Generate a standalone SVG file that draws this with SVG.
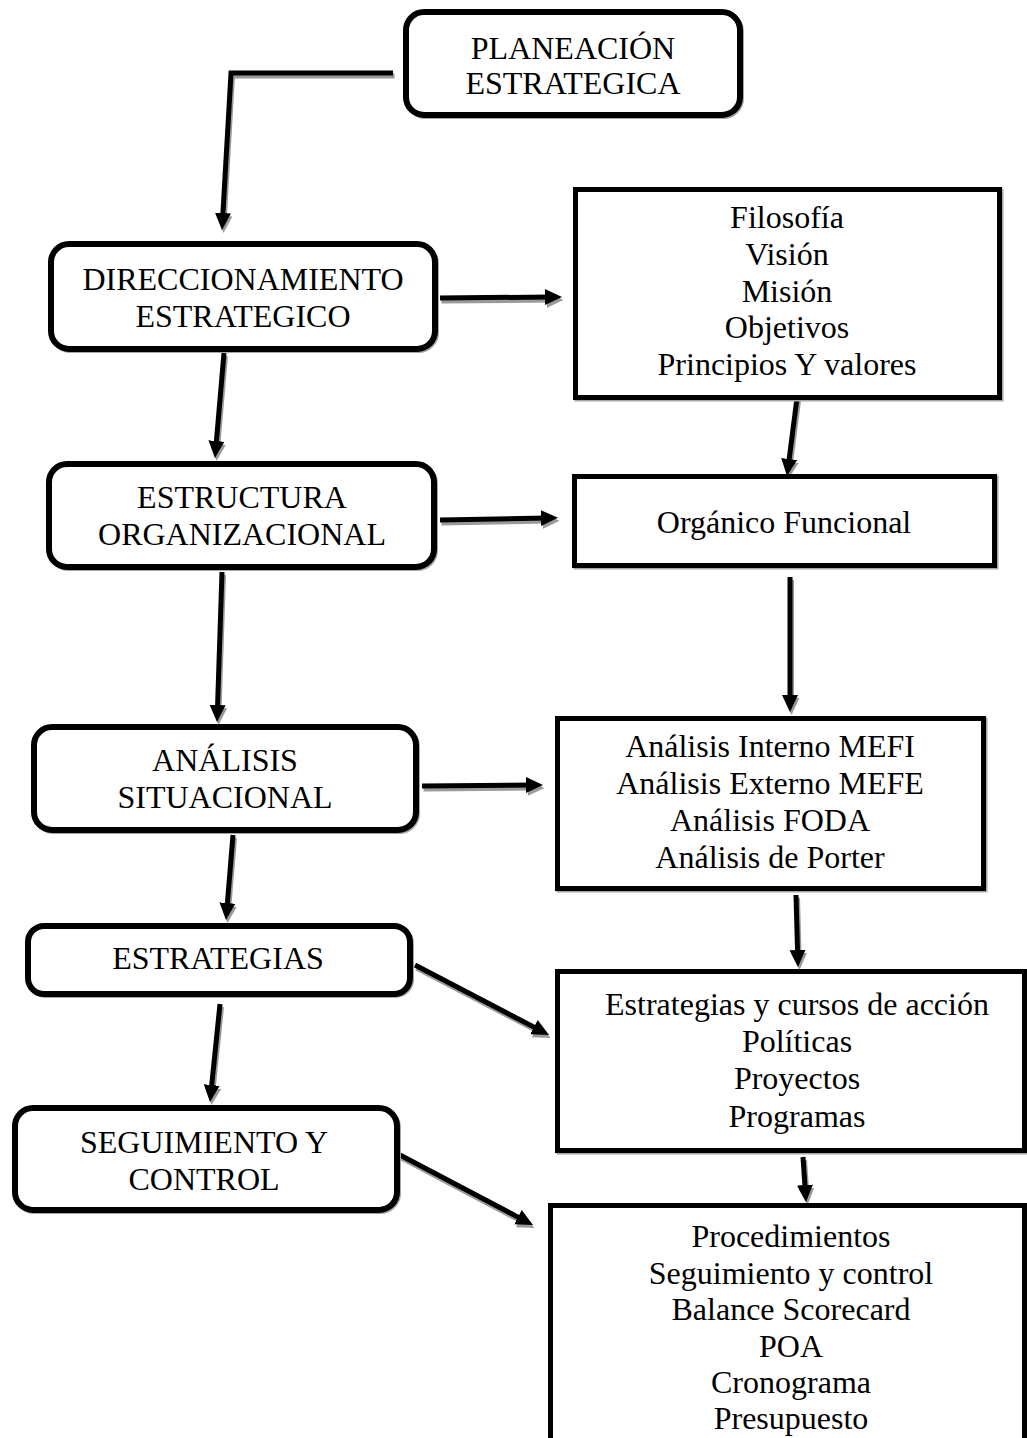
<svg xmlns="http://www.w3.org/2000/svg" width="1027" height="1438" viewBox="0 0 1027 1438">
  <style>
    .box { fill: #fff; stroke: #000; stroke-width: 6; }
    .sq { fill: #fff; stroke: #000; stroke-width: 5; }
    .boxsh { fill: none; stroke: #a6a6a6; stroke-width: 5; }
    .lbl { font-family: 'Liberation Serif', 'Times New Roman', Times, serif; font-size: 32px; fill: #000; text-anchor: middle; }
    .wire { fill: none; stroke: #000; stroke-width: 5; stroke-linejoin: miter; marker-end: url(#head); }
    .wiresh { fill: none; stroke: #9a9a9a; stroke-width: 5; stroke-linejoin: miter; marker-end: url(#headsh); }
  </style>
  <defs>
    <marker id="head" markerUnits="userSpaceOnUse" markerWidth="18" markerHeight="17" refX="6" refY="8" orient="auto" viewBox="0 0 18 17">
      <path d="M0,0 L17,8 L0,16 Z" fill="#000"/>
    </marker>
    <marker id="headsh" markerUnits="userSpaceOnUse" markerWidth="18" markerHeight="17" refX="6" refY="8" orient="auto" viewBox="0 0 18 17">
      <path d="M0,0 L17,8 L0,16 Z" fill="#9a9a9a"/>
    </marker>
  </defs>
  <rect width="1027" height="1438" fill="#fff"/>

  <!-- connector shadows -->
  <g id="connector-shadows" transform="translate(1.5,3)">
    <path class="wiresh" d="M393,73 L231,73 L222.6,219"/>
    <path class="wiresh" d="M440,298 L551,297"/>
    <path class="wiresh" d="M224,353 L215.9,447"/>
    <path class="wiresh" d="M797,398 L788.4,465"/>
    <path class="wiresh" d="M440,520 L547,518"/>
    <path class="wiresh" d="M222,572 L217.4,711"/>
    <path class="wiresh" d="M790,577 L790,701"/>
    <path class="wiresh" d="M422,786 L532,785"/>
    <path class="wiresh" d="M233,835 L226.9,909"/>
    <path class="wiresh" d="M796,895 L797.7,956"/>
    <path class="wiresh" d="M415,965 L539.3,1029.9"/>
    <path class="wiresh" d="M220,1004 L211.1,1091"/>
    <path class="wiresh" d="M400,1155 L523.3,1219.9"/>
    <path class="wiresh" d="M803,1157 L805.3,1191"/>
  </g>

  <!-- connectors -->
  <g id="connectors">
    <path class="wire" d="M393,73 L231,73 L222.6,219"/>
    <path class="wire" d="M440,298 L551,297"/>
    <path class="wire" d="M224,353 L215.9,447"/>
    <path class="wire" d="M797,398 L788.4,465"/>
    <path class="wire" d="M440,520 L547,518"/>
    <path class="wire" d="M222,572 L217.4,711"/>
    <path class="wire" d="M790,577 L790,701"/>
    <path class="wire" d="M422,786 L532,785"/>
    <path class="wire" d="M233,835 L226.9,909"/>
    <path class="wire" d="M796,895 L797.7,956"/>
    <path class="wire" d="M415,965 L539.3,1029.9"/>
    <path class="wire" d="M220,1004 L211.1,1091"/>
    <path class="wire" d="M400,1155 L523.3,1219.9"/>
    <path class="wire" d="M803,1157 L805.3,1191"/>
  </g>

  <!-- left column: process stages -->
  <g id="planeacion">
    <rect class="boxsh" x="407.5" y="13.5" width="334" height="103" rx="18"/>
    <rect class="box" x="406" y="12" width="334" height="103" rx="18"/>
    <text class="lbl" x="573" y="59">PLANEACIÓN</text>
    <text class="lbl" x="573" y="94">ESTRATEGICA</text>
  </g>
  <g id="direccionamiento">
    <rect class="boxsh" x="52.5" y="245.5" width="384" height="105" rx="18"/>
    <rect class="box" x="51" y="244" width="384" height="105" rx="18"/>
    <text class="lbl" x="243" y="290">DIRECCIONAMIENTO</text>
    <text class="lbl" x="243" y="327">ESTRATEGICO</text>
  </g>
  <g id="estructura">
    <rect class="boxsh" x="50.5" y="465.5" width="385" height="103" rx="18"/>
    <rect class="box" x="49" y="464" width="385" height="103" rx="18"/>
    <text class="lbl" x="242" y="508">ESTRUCTURA</text>
    <text class="lbl" x="242" y="545">ORGANIZACIONAL</text>
  </g>
  <g id="analisis-situacional">
    <rect class="boxsh" x="35.5" y="728.5" width="382" height="103" rx="18"/>
    <rect class="box" x="34" y="727" width="382" height="103" rx="18"/>
    <text class="lbl" x="225" y="771">ANÁLISIS</text>
    <text class="lbl" x="225" y="808">SITUACIONAL</text>
  </g>
  <g id="estrategias">
    <rect class="boxsh" x="29.5" y="927.5" width="382" height="68" rx="16"/>
    <rect class="box" x="28" y="926" width="382" height="68" rx="16"/>
    <text class="lbl" x="218" y="969">ESTRATEGIAS</text>
  </g>
  <g id="seguimiento">
    <rect class="boxsh" x="16.5" y="1109.5" width="382" height="102" rx="18"/>
    <rect class="box" x="15" y="1108" width="382" height="102" rx="18"/>
    <text class="lbl" x="204" y="1153">SEGUIMIENTO Y</text>
    <text class="lbl" x="204" y="1190">CONTROL</text>
  </g>

  <!-- right column: contents of each stage -->
  <g id="filosofia">
    <rect class="boxsh" x="577" y="191" width="424" height="208"/>
    <rect class="sq" x="575.5" y="189.5" width="424" height="208"/>
    <text class="lbl" x="787" y="228">Filosofía</text>
    <text class="lbl" x="787" y="265">Visión</text>
    <text class="lbl" x="787" y="302">Misión</text>
    <text class="lbl" x="787" y="338">Objetivos</text>
    <text class="lbl" x="787" y="375">Principios Y valores</text>
  </g>
  <g id="organico">
    <rect class="boxsh" x="576" y="478" width="420" height="89"/>
    <rect class="sq" x="574.5" y="476.5" width="420" height="89"/>
    <text class="lbl" x="784" y="533">Orgánico Funcional</text>
  </g>
  <g id="analisis">
    <rect class="boxsh" x="559" y="720" width="426" height="170"/>
    <rect class="sq" x="557.5" y="718.5" width="426" height="170"/>
    <text class="lbl" x="770" y="757">Análisis Interno MEFI</text>
    <text class="lbl" x="770" y="794">Análisis Externo MEFE</text>
    <text class="lbl" x="770" y="831">Análisis FODA</text>
    <text class="lbl" x="770" y="868">Análisis de Porter</text>
  </g>
  <g id="cursos-de-accion">
    <rect class="boxsh" x="559" y="973" width="467" height="179"/>
    <rect class="sq" x="557.5" y="971.5" width="467" height="179"/>
    <text class="lbl" x="797" y="1015">Estrategias y cursos de acción</text>
    <text class="lbl" x="797" y="1052">Políticas</text>
    <text class="lbl" x="797" y="1089">Proyectos</text>
    <text class="lbl" x="797" y="1127">Programas</text>
  </g>
  <g id="procedimientos">
    <rect class="boxsh" x="552" y="1207" width="474" height="260"/>
    <rect class="sq" x="550.5" y="1205.5" width="474" height="260"/>
    <text class="lbl" x="791" y="1247">Procedimientos</text>
    <text class="lbl" x="791" y="1284">Seguimiento y control</text>
    <text class="lbl" x="791" y="1320">Balance Scorecard</text>
    <text class="lbl" x="791" y="1357">POA</text>
    <text class="lbl" x="791" y="1393">Cronograma</text>
    <text class="lbl" x="791" y="1429">Presupuesto</text>
  </g>
</svg>
